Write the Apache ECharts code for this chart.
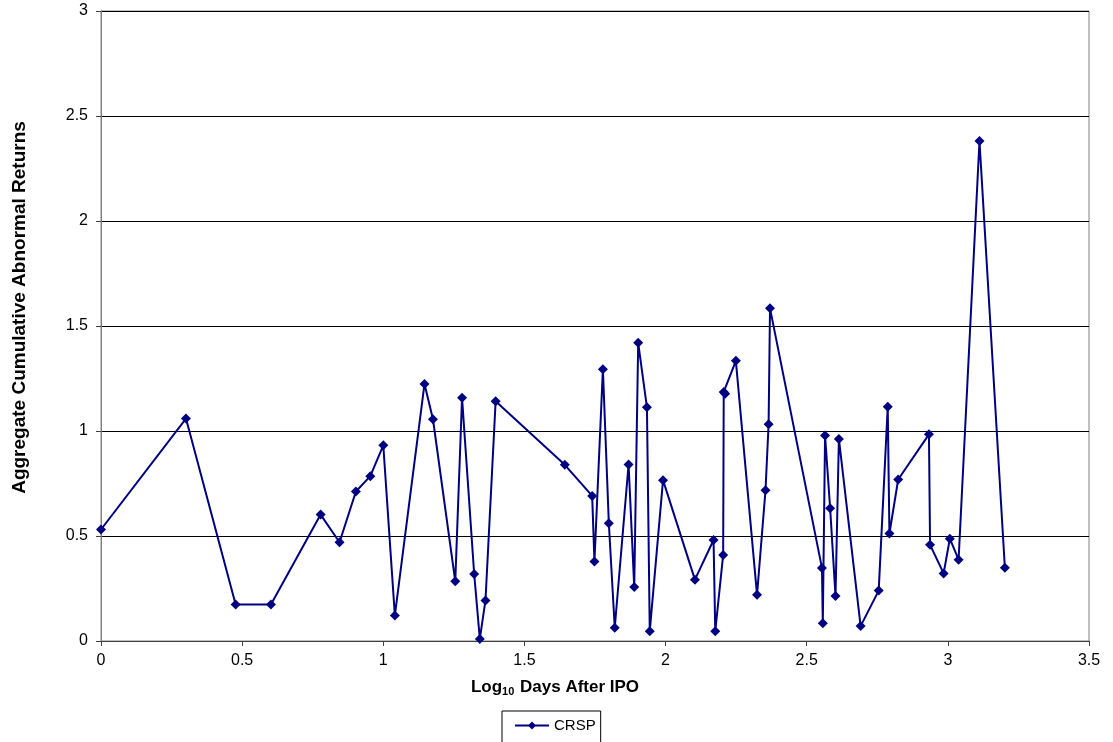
<!DOCTYPE html>
<html>
<head>
<meta charset="utf-8">
<script src="https://cdn.jsdelivr.net/npm/echarts@6/dist/echarts.min.js"></script>
<style>html,body{margin:0;padding:0;background:#fff}#c{width:1113px;height:742px}</style>
</head>
<body>
<div id="c"></div>
<script>
// Log10 days after IPO
const xVals = [0, 0.301, 0.477, 0.602, 0.778, 0.845, 0.903, 0.954, 1.000, 1.041,
  1.146, 1.176, 1.255, 1.279, 1.322, 1.342, 1.362, 1.398, 1.643, 1.740,
  1.748, 1.778, 1.799, 1.820, 1.869, 1.889, 1.903, 1.934, 1.944, 1.991,
  2.104, 2.170, 2.176, 2.204, 2.206, 2.211, 2.249, 2.324, 2.354, 2.365,
  2.370, 2.554, 2.557, 2.565, 2.583, 2.602, 2.614, 2.691, 2.755, 2.787,
  2.793, 2.824, 2.933, 2.937, 2.985, 3.007, 3.038, 3.112, 3.202];
// Aggregate cumulative abnormal returns (CRSP)
const crsp = [0.531, 1.059, 0.174, 0.174, 0.602, 0.470, 0.712, 0.785, 0.932, 0.122,
  1.224, 1.056, 0.284, 1.158, 0.319, 0.010, 0.193, 1.142, 0.839, 0.691,
  0.379, 1.294, 0.561, 0.063, 0.841, 0.257, 1.420, 1.113, 0.047, 0.766,
  0.292, 0.481, 0.047, 0.410, 1.186, 1.177, 1.334, 0.220, 0.718, 1.032,
  1.584, 0.348, 0.084, 0.978, 0.632, 0.214, 0.962, 0.071, 0.240, 1.115,
  0.512, 0.769, 0.984, 0.458, 0.322, 0.487, 0.387, 2.381, 0.349];
const seriesName = 'CRSP';
const xTitle = ['Log', '10', ' Days After IPO'];
const yTitle = 'Aggregate Cumulative Abnormal Returns';

const chart = echarts.init(document.getElementById('c'));
const font = '"Liberation Sans", Arial, sans-serif';
chart.setOption({
  animation: false,
  backgroundColor: '#fff',
  grid: { left: 101, right: 24, top: 11, bottom: 101, show: true, borderColor: '#808080', borderWidth: 1, backgroundColor: 'transparent' },
  xAxis: {
    type: 'value', min: 0, max: 3.5, interval: 0.5,
    name: '{b|' + xTitle[0] + '}{s|' + xTitle[1] + '}{b|' + xTitle[2] + '}',
    nameLocation: 'middle', nameGap: 36,
    nameTextStyle: {
      padding: [0, 80, 0, 0],
      rich: {
        b: { fontFamily: font, fontWeight: 'bold', fontSize: 17, color: '#000' },
        s: { fontFamily: font, fontWeight: 'bold', fontSize: 11, color: '#000', verticalAlign: 'bottom', padding: [9, 1, 0, 0] }
      }
    },
    axisLine: { show: true, onZero: false, lineStyle: { color: '#404040', width: 1 } },
    axisTick: { show: true, length: 5, lineStyle: { color: '#404040' } },
    axisLabel: { fontFamily: font, fontSize: 16, color: '#000', margin: 12 },
    splitLine: { show: false }
  },
  yAxis: {
    type: 'value', min: 0, max: 3, interval: 0.5,
    name: yTitle, nameLocation: 'middle', nameGap: 72, nameRotate: 90,
    nameTextStyle: { fontFamily: font, fontWeight: 'bold', fontSize: 19, color: '#000', padding: [0, 0, 0, 37] },
    axisLine: { show: true, onZero: false, lineStyle: { color: '#808080', width: 1 } },
    axisTick: { show: true, length: 5, lineStyle: { color: '#404040' } },
    axisLabel: { fontFamily: font, fontSize: 16, color: '#000', margin: 13 },
    splitLine: { show: true, lineStyle: { color: '#000', width: 1 } }
  },
  legend: {
    data: [seriesName], left: 502, top: 711,
    borderColor: '#000', borderWidth: 1, padding: [7, 5, 14, 12],
    itemWidth: 34, itemHeight: 10, itemGap: 4,
    textStyle: { fontFamily: font, fontSize: 15, color: '#000' }
  },
  series: [{
    name: seriesName, type: 'line',
    data: xVals.map((x, i) => [x, crsp[i]]),
    symbol: 'diamond', symbolSize: 10,
    lineStyle: { color: '#000080', width: 2 },
    itemStyle: { color: '#000080' }
  }]
});
</script>
</body>
</html>
